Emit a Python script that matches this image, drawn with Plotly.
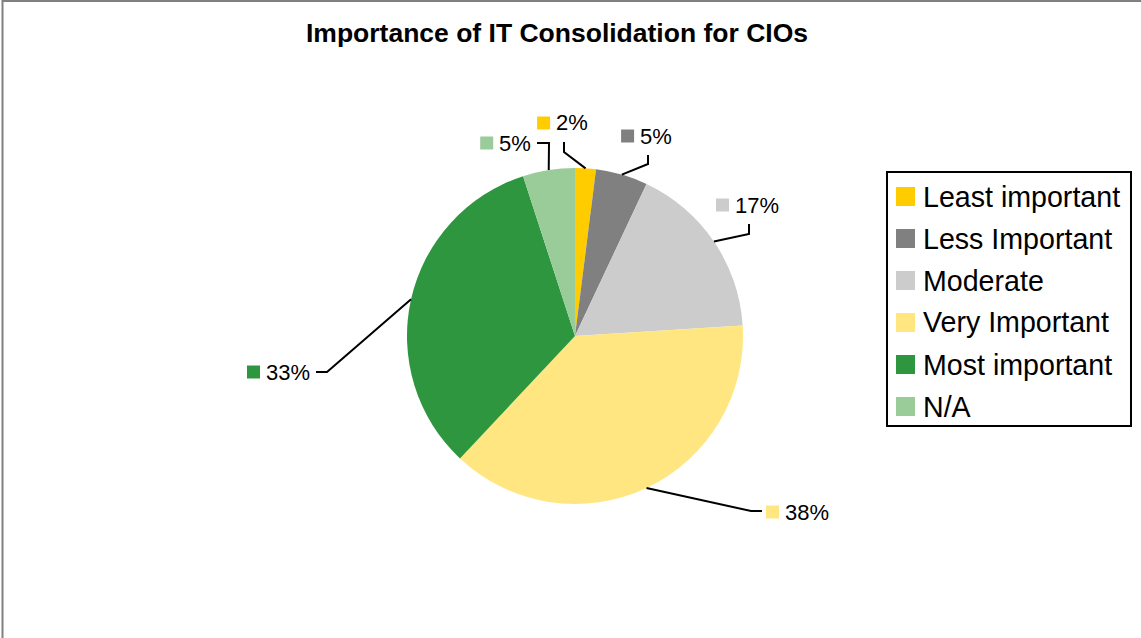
import math
import plotly.graph_objects as go

# --- data -------------------------------------------------------------
categories = ["Least important", "Less Important", "Moderate",
              "Very Important", "Most important", "N/A"]
shares = [2, 5, 17, 38, 33, 5]          # percent of CIOs
slice_colors = ["#FFCC00", "#808080", "#CCCCCC", "#FFE680", "#2E963E", "#99CC99"]

# --- canvas helpers (pixel -> paper) ---------------------------------
W, H = 1141, 638
FONT = "Liberation Sans, Arial, sans-serif"


def px(x):
    return x / W


def py(y):
    return 1 - y / H


# pie placement (pixels)
cx, cy, R = 575, 336, 168

# label placement: end of the leader line relative to the pie centre,
# direction of the final short segment and its length
label_layout = [
    dict(end=(-11, -194), side="up", tail=10),
    dict(end=(73, -181), side="up", tail=9),
    dict(end=(174, -112), side="up", tail=10),
    dict(end=(187, 175), side="right", tail=11),
    dict(end=(-259, 36), side="left", tail=11),
    dict(end=(-38, -193), side="left", tail=12),
]
LABEL_FS = 22
SQ = 13       # swatch size in data labels
GAP = 6

fig = go.Figure(go.Pie(
    labels=categories,
    values=shares,
    marker=dict(colors=slice_colors, line=dict(width=0)),
    sort=False,
    direction="clockwise",
    rotation=0,
    textinfo="none",
    hoverinfo="label+percent",
    showlegend=False,
    domain=dict(x=[px(cx - R), px(cx + R)], y=[py(cy + R), py(cy - R)]),
))

shapes = []
annotations = []

# chart frame
shapes.append(dict(type="rect", xref="paper", yref="paper",
                   x0=px(2.5), x1=px(W + 10), y0=py(1), y1=py(H + 10),
                   line=dict(color="#808080", width=2), fillcolor="rgba(0,0,0,0)"))

total = sum(shares)
cum = 0
for cat, val, col, lay in zip(categories, shares, slice_colors, label_layout):
    theta = 2 * math.pi * (cum + val / 2) / total
    cum += val
    sx = cx + R * math.sin(theta)
    sy = cy - R * math.cos(theta)
    ex, ey = cx + lay["end"][0], cy + lay["end"][1]
    if lay["side"] == "up":
        bx, by = ex, ey + lay["tail"]
    elif lay["side"] == "right":
        bx, by = ex - lay["tail"], ey
    else:
        bx, by = ex + lay["tail"], ey
    path = f"M{px(sx)},{py(sy)} L{px(bx)},{py(by)} L{px(ex)},{py(ey)}"
    shapes.append(dict(type="path", xref="paper", yref="paper", path=path,
                       line=dict(color="black", width=2)))

    text = f"{round(val / total * 100)}%"
    tw = LABEL_FS * (0.556 * (len(text) - 1) + 0.889)
    group_w = SQ + GAP + tw
    if lay["side"] == "up":
        left = ex - 1.5 - group_w / 2
        ymid = ey - 19
    elif lay["side"] == "right":
        left = ex + 4
        ymid = ey + 1
    else:
        left = ex - 6 - group_w
        ymid = ey
    shapes.append(dict(type="rect", xref="paper", yref="paper",
                       x0=px(left), x1=px(left + SQ),
                       y0=py(ymid - SQ / 2), y1=py(ymid + SQ / 2),
                       line=dict(width=0), fillcolor=col))
    annotations.append(dict(xref="paper", yref="paper", x=px(left + SQ + GAP - 2),
                            y=py(ymid), xanchor="left", yanchor="middle",
                            text=text, showarrow=False,
                            font=dict(family=FONT, size=LABEL_FS, color="black")))

# legend box
LEG_X0, LEG_Y0, LEG_X1, LEG_Y1 = 887, 172, 1131, 426
shapes.append(dict(type="rect", xref="paper", yref="paper",
                   x0=px(LEG_X0), x1=px(LEG_X1), y0=py(LEG_Y0), y1=py(LEG_Y1),
                   line=dict(color="black", width=2), fillcolor="white"))
ROW0, ROW_STEP, LSQ = 196.5, 42, 19
for i, (cat, col) in enumerate(zip(categories, slice_colors)):
    yc = ROW0 + i * ROW_STEP
    shapes.append(dict(type="rect", xref="paper", yref="paper",
                       x0=px(896), x1=px(896 + LSQ),
                       y0=py(yc - LSQ / 2), y1=py(yc + LSQ / 2),
                       line=dict(width=0), fillcolor=col))
    annotations.append(dict(xref="paper", yref="paper", x=px(921), y=py(yc),
                            xanchor="left", yanchor="middle", text=cat,
                            showarrow=False,
                            font=dict(family=FONT, size=28.6, color="black")))

fig.update_layout(
    width=W, height=H,
    margin=dict(l=0, r=0, t=0, b=0),
    paper_bgcolor="white",
    plot_bgcolor="white",
    title=dict(text="Importance of IT Consolidation for CIOs",
               x=px(557), y=py(33), xanchor="center", yanchor="middle",
               xref="paper", yref="paper",
               font=dict(family=FONT, size=26.5, color="black", weight="bold")),
    shapes=shapes,
    annotations=annotations,
)

fig.write_html("out.html")
